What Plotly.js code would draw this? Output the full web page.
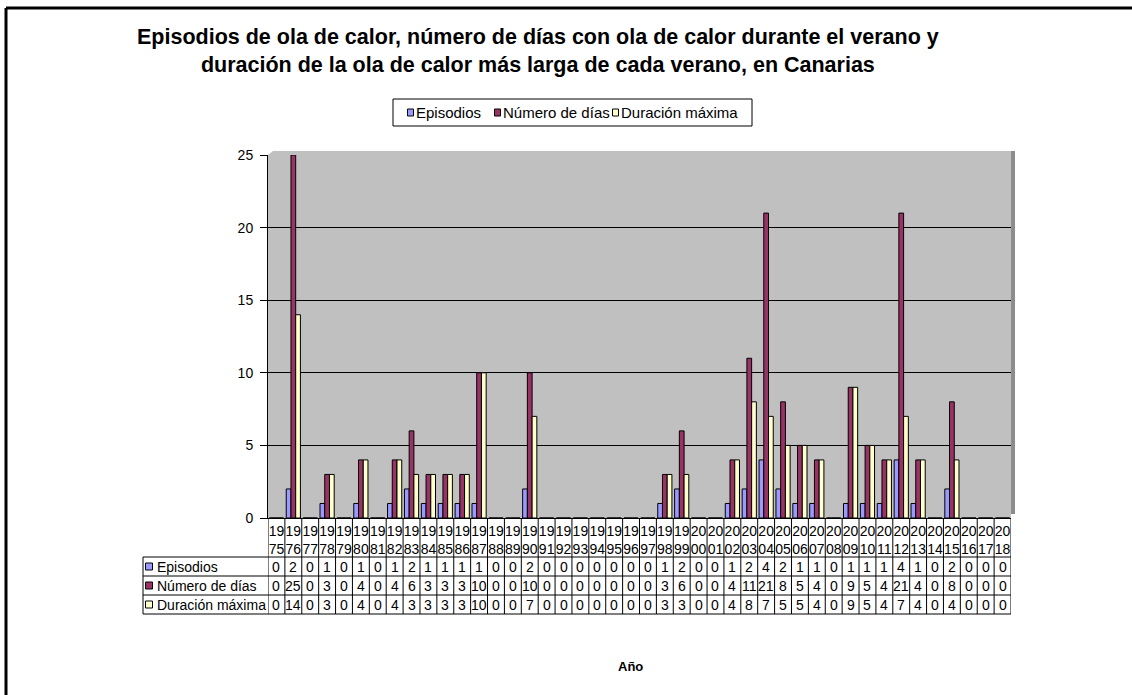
<!DOCTYPE html>
<html>
<head>
<meta charset="utf-8">
<script src="https://cdn.plot.ly/plotly-3.0.1.min.js"></script>
<style>
html,body{margin:0;padding:0;background:#fff;}
#chart{width:1132px;height:695px;}
</style>
</head>
<body>
<div id="chart"></div>
<script>
const years = [1975,1976,1977,1978,1979,1980,1981,1982,1983,1984,1985,1986,1987,1988,1989,1990,1991,1992,1993,1994,1995,1996,1997,1998,1999,2000,2001,2002,2003,2004,2005,2006,2007,2008,2009,2010,2011,2012,2013,2014,2015,2016,2017,2018];
const episodios = [0,2,0,1,0,1,0,1,2,1,1,1,1,0,0,2,0,0,0,0,0,0,0,1,2,0,0,1,2,4,2,1,1,0,1,1,1,4,1,0,2,0,0,0];
const numeroDias = [0,25,0,3,0,4,0,4,6,3,3,3,10,0,0,10,0,0,0,0,0,0,0,3,6,0,0,4,11,21,8,5,4,0,9,5,4,21,4,0,8,0,0,0];
const duracionMax = [0,14,0,3,0,4,0,4,3,3,3,3,10,0,0,7,0,0,0,0,0,0,0,3,3,0,0,4,8,7,5,5,4,0,9,5,4,7,4,0,4,0,0,0];
const seriesNames = ['Episodios','Número de días','Duración máxima'];
const seriesColors = ['#9999FF','#993366','#FFFFCC'];
const yTicks = [0,5,10,15,20,25];
const titleLines = ['Episodios de ola de calor, número de días con ola de calor durante el verano y',
                    'duración de la ola de calor más larga de cada verano, en Canarias'];
const xTitle = 'Año';

const seriesData = [episodios, numeroDias, duracionMax];
const FONT = 'Liberation Sans, Arial, sans-serif';

// pixel geometry helpers
const L = 268, R = 1011, T = 155, B = 518, W = 1132, H = 695;
const px2x = p => (p - L) / (R - L);
const py2y = p => (B - p) / (B - T);

const traces = seriesData.map((d, i) => ({
  type: 'bar',
  name: seriesNames[i],
  x: years,
  y: d,
  marker: {color: seriesColors[i], line: {color: '#000', width: 1}},
  hoverinfo: 'x+y+name'
}));

const shapes = [];
const annotations = [];

// outer frame
shapes.push({type:'line', xref:'paper', yref:'paper', x0:px2x(6), x1:px2x(1140), y0:py2y(8), y1:py2y(8), line:{color:'#000', width:3}});
shapes.push({type:'line', xref:'paper', yref:'paper', x0:px2x(6), x1:px2x(6), y0:py2y(8), y1:py2y(700), line:{color:'#000', width:3}});

// 3D-look: back wall top margin and right shadow
shapes.push({type:'path', xref:'paper', yref:'paper',
  path:`M ${px2x(268)} ${py2y(155)} L ${px2x(273)} ${py2y(151)} L ${px2x(1015)} ${py2y(151)} L ${px2x(1015)} ${py2y(155)} Z`,
  fillcolor:'#C0C0C0', line:{width:0}, layer:'below'});
shapes.push({type:'rect', xref:'paper', yref:'paper', x0:1, x1:px2x(1015), y0:py2y(514), y1:py2y(151), fillcolor:'#8c8c8c', line:{width:0}, layer:'below'});

// table
const rowLines = [557, 576, 595, 614];
rowLines.forEach(p => shapes.push({type:'line', xref:'paper', yref:'paper', x0:px2x(143), x1:1, y0:py2y(p), y1:py2y(p), line:{color:'#000', width:1}}));
shapes.push({type:'line', xref:'paper', yref:'paper', x0:px2x(143), x1:px2x(143), y0:py2y(557), y1:py2y(614), line:{color:'#000', width:1}});
for (let i = 0; i <= years.length; i++) {
  const xv = years[0] - 0.5 + i;
  shapes.push({type:'line', xref:'x', yref:'paper', x0:xv, x1:xv, y0:0, y1:py2y(614), line:{color:'#000', width:1}});
}
const rowCenters = [566.5, 585.5, 604.5];
seriesData.forEach((d, r) => {
  shapes.push({type:'rect', xref:'paper', yref:'paper', xsizemode:'pixel', ysizemode:'pixel',
    xanchor:px2x(149), yanchor:py2y(rowCenters[r]), x0:-3.5, x1:3.5, y0:-3.5, y1:3.5,
    fillcolor:seriesColors[r], line:{color:'#000', width:1}});
  annotations.push({xref:'paper', yref:'paper', x:px2x(155), y:py2y(rowCenters[r]), xanchor:'left', yanchor:'middle',
    text:seriesNames[r], showarrow:false, font:{family:FONT, size:14, color:'#000'}});
  d.forEach((v, i) => {
    annotations.push({xref:'x', yref:'paper', x:years[i], y:py2y(rowCenters[r]), xanchor:'center', yanchor:'middle',
      text:String(v), showarrow:false, font:{family:FONT, size:14, color:'#000'}});
  });
});

// legend (drawn as a box with swatches and labels, like the Excel legend)
shapes.push({type:'rect', xref:'paper', yref:'paper', x0:px2x(393), x1:px2x(752), y0:py2y(126), y1:py2y(99),
  fillcolor:'#fff', line:{color:'#000', width:1}});
const legSwatchX = [410.5, 497.5, 615.5];
const legTextX = [414, 501, 619];
seriesNames.forEach((n, k) => {
  shapes.push({type:'rect', xref:'paper', yref:'paper', xsizemode:'pixel', ysizemode:'pixel',
    xanchor:px2x(legSwatchX[k]), yanchor:py2y(112.5), x0:-3, x1:3, y0:-3.5, y1:3.5,
    fillcolor:seriesColors[k], line:{color:'#000', width:1}});
  annotations.push({xref:'paper', yref:'paper', x:px2x(legTextX[k]), y:py2y(112.5), xanchor:'left', yanchor:'middle',
    text:n, showarrow:false, font:{family:FONT, size:15, color:'#000'}});
});

// title
annotations.push({xref:'paper', yref:'paper', x:px2x(538), y:py2y(51), xanchor:'center', yanchor:'middle',
  text:'<b>' + titleLines.join('<br>') + '</b>', showarrow:false, align:'center',
  font:{family:FONT, size:21.5, color:'#000'}});
// x title
annotations.push({xref:'paper', yref:'paper', x:px2x(630), y:py2y(666), xanchor:'center', yanchor:'middle',
  text:'<b>' + xTitle + '</b>', showarrow:false,
  font:{family:FONT, size:13, color:'#000'}});

const layout = {
  width: W, height: H,
  margin: {l: L, r: W - R, t: T, b: H - B, pad: 0},
  paper_bgcolor: '#fff',
  plot_bgcolor: '#C0C0C0',
  font: {family: FONT, size: 14, color: '#000'},
  barmode: 'group',
  bargap: 0.16,
  bargroupgap: 0,
  showlegend: false,
  xaxis: {
    range: [years[0] - 0.5, years[years.length - 1] + 0.5],
    tickmode: 'array', tickvals: years,
    ticktext: years.map(y => String(y).slice(0,2) + '<br>' + String(y).slice(2)),
    ticks: '', showgrid: false, zeroline: false,
    showline: true, linecolor: '#000', linewidth: 1,
    tickfont: {family:FONT, size:14, color:'#000'},
    tickangle: 0, fixedrange: true
  },
  yaxis: {
    range: [0, 25], tickmode: 'array', tickvals: yTicks,
    ticks: 'outside', ticklen: 7, tickcolor: '#000', tickwidth: 1,
    showgrid: true, gridcolor: '#000', gridwidth: 1,
    zeroline: false, showline: true, linecolor: '#000', linewidth: 1,
    tickfont: {family:FONT, size:14, color:'#000'},
    ticklabelstandoff: 4,
    fixedrange: true
  },
  shapes: shapes,
  annotations: annotations
};

Plotly.newPlot('chart', traces, layout, {displayModeBar: false, staticPlot: true});
</script>
</body>
</html>
